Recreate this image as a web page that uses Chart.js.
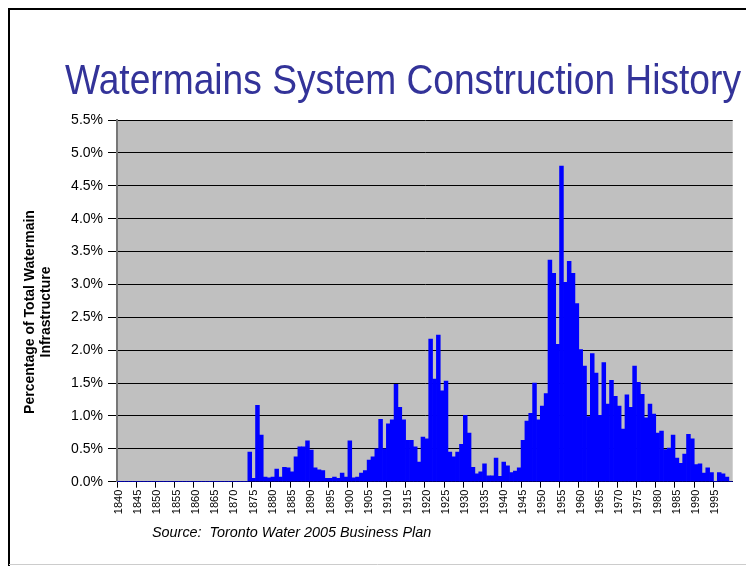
<!DOCTYPE html>
<html>
<head>
<meta charset="utf-8">
<script src="https://cdn.jsdelivr.net/npm/chart.js@4/dist/chart.umd.min.js"></script>
<style>
  body { margin: 0; background: #fff; }
</style>
</head>
<body>
<canvas id="myChart" width="746" height="566"></canvas>
<script>
// one category per year, 1840 - 1999
let firstYear = 1840;
let lastYear = 1999;
let years = [];
for (let y = firstYear; y <= lastYear; y++) years.push(String(y));

// % of total watermain length laid in each year
let share1840s = [0, 0, 0, 0, 0, 0, 0, 0, 0, 0];
let share1850s = [0, 0, 0, 0, 0, 0, 0, 0, 0, 0];
let share1860s = [0, 0, 0, 0, 0, 0, 0, 0, 0, 0];
let share1870s = [0, 0, 0, 0, 0.45, 0.05, 1.16, 0.71, 0.07, 0.06];
let share1880s = [0.07, 0.19, 0.07, 0.22, 0.21, 0.15, 0.38, 0.53, 0.53, 0.62];
let share1890s = [0.48, 0.21, 0.18, 0.17, 0.05, 0.05, 0.07, 0.05, 0.13, 0.07];
let share1900s = [0.62, 0.06, 0.07, 0.13, 0.17, 0.33, 0.38, 0.50, 0.95, 0.50];
let share1910s = [0.88, 0.94, 1.48, 1.13, 0.94, 0.63, 0.63, 0.53, 0.30, 0.68];
let share1920s = [0.65, 2.17, 1.56, 2.23, 1.38, 1.53, 0.45, 0.38, 0.45, 0.57];
let share1930s = [1.01, 0.74, 0.22, 0.12, 0.15, 0.27, 0.09, 0.09, 0.36, 0.08];
let share1940s = [0.30, 0.24, 0.14, 0.16, 0.21, 0.63, 0.92, 1.04, 1.50, 0.94];
let share1950s = [1.15, 1.34, 3.37, 3.17, 2.09, 4.80, 3.03, 3.35, 3.17, 2.71];
let share1960s = [2.01, 1.76, 0.99, 1.95, 1.65, 1.01, 1.81, 1.18, 1.54, 1.30];
let share1970s = [1.15, 0.80, 1.32, 1.13, 1.76, 1.51, 1.33, 0.97, 1.18, 1.03];
let share1980s = [0.74, 0.77, 0.49, 0.51, 0.71, 0.36, 0.28, 0.42, 0.72, 0.65];
let share1990s = [0.26, 0.27, 0.13, 0.21, 0.14, 0, 0.14, 0.12, 0.07, 0];

let share = [].concat(share1840s, share1850s, share1860s, share1870s, share1880s,
    share1890s, share1900s, share1910s, share1920s, share1930s, share1940s,
    share1950s, share1960s, share1970s, share1980s, share1990s);

let titleText = 'Watermains System Construction History';
let yTitleLines = ['Percentage of Total Watermain', 'Infrastructure'];
let sourceText = 'Source:  Toronto Water 2005 Business Plan';

let FONT = '"Liberation Sans", Arial, sans-serif';

// slide frame, grey plot area, title and notes
let slidePlugin = {
    id: 'slide',
    beforeDraw(chart) {
        let ctx = chart.ctx;
        let a = chart.chartArea;
        ctx.save();
        ctx.fillStyle = '#fff';
        ctx.fillRect(0, 0, chart.width, chart.height);
        ctx.fillStyle = '#c0c0c0';
        ctx.fillRect(a.left, a.top, a.right - a.left, a.bottom - a.top);
        ctx.strokeStyle = '#000';
        ctx.lineWidth = 2;
        ctx.beginPath();
        ctx.moveTo(9, chart.height);
        ctx.lineTo(9, 9);
        ctx.lineTo(chart.width, 9);
        ctx.stroke();
        ctx.strokeStyle = '#cccccc';
        ctx.lineWidth = 1;
        ctx.beginPath();
        ctx.moveTo(9, 564.5);
        ctx.lineTo(chart.width, 564.5);
        ctx.stroke();
        ctx.restore();
    },
    afterDraw(chart) {
        let ctx = chart.ctx;
        ctx.save();
        // title (slightly condensed like the slide)
        ctx.font = '42px ' + FONT;
        ctx.fillStyle = '#333399';
        ctx.textBaseline = 'alphabetic';
        let w = ctx.measureText(titleText).width;
        ctx.translate(65, 94);
        ctx.scale(676 / w, 1);
        ctx.fillText(titleText, 0, 0);
        ctx.restore();

        // y axis title
        ctx.save();
        ctx.font = 'bold 14px ' + FONT;
        ctx.fillStyle = '#000';
        ctx.textAlign = 'center';
        ctx.textBaseline = 'middle';
        ctx.translate(30, 312);
        ctx.rotate(-Math.PI / 2);
        ctx.fillText(yTitleLines[0], 0, 0);
        ctx.fillText(yTitleLines[1], 0, 16);
        ctx.restore();

        // source note
        ctx.save();
        ctx.font = 'italic 14.4px ' + FONT;
        ctx.fillStyle = '#000';
        ctx.fillText(sourceText, 152, 537);
        ctx.restore();
    }
};

let data = {
    labels: years,
    datasets: [{
        label: 'Share of watermains',
        backgroundColor: '#0000ff',
        borderWidth: 0,
        barPercentage: 1,
        categoryPercentage: 1,
        data: share,
    }]
};

let config = {
    type: 'bar',
    data: data,
    plugins: [slidePlugin],
    options: {
        responsive: false,
        animation: false,
        layout: {
            padding: { top: 120, right: 3, bottom: 0, left: 0 }
        },
        plugins: {
            legend: { display: false },
            title: { display: false },
            tooltip: { enabled: false }
        },
        scales: {
            x: {
                grid: {
                    drawOnChartArea: false,
                    tickLength: 6,
                    color: (c) => (c.index % 5 === 0 ? '#000' : 'rgba(0,0,0,0)')
                },
                border: { color: '#000', width: 1 },
                ticks: {
                    autoSkip: false,
                    maxRotation: 90,
                    minRotation: 90,
                    padding: 2,
                    color: '#000',
                    font: { family: FONT, size: 11 },
                    callback: function (value, index) {
                        return index % 5 === 0 ? years[index] : '';
                    }
                },
                afterFit: (scale) => { scale.height = 84.3; }
            },
            y: {
                min: 0,
                max: 5.5,
                grid: {
                    color: '#000',
                    lineWidth: 1,
                    tickLength: 9
                },
                border: { color: '#777', width: 2 },
                ticks: {
                    stepSize: 0.5,
                    padding: 5,
                    color: '#000',
                    font: { family: FONT, size: 14 },
                    callback: (v) => v.toFixed(1) + '%'
                },
                afterFit: (scale) => { scale.width = 117; }
            }
        }
    }
};

let myChart = new Chart(
    document.getElementById('myChart'),
    config
);
</script>
</body>
</html>
